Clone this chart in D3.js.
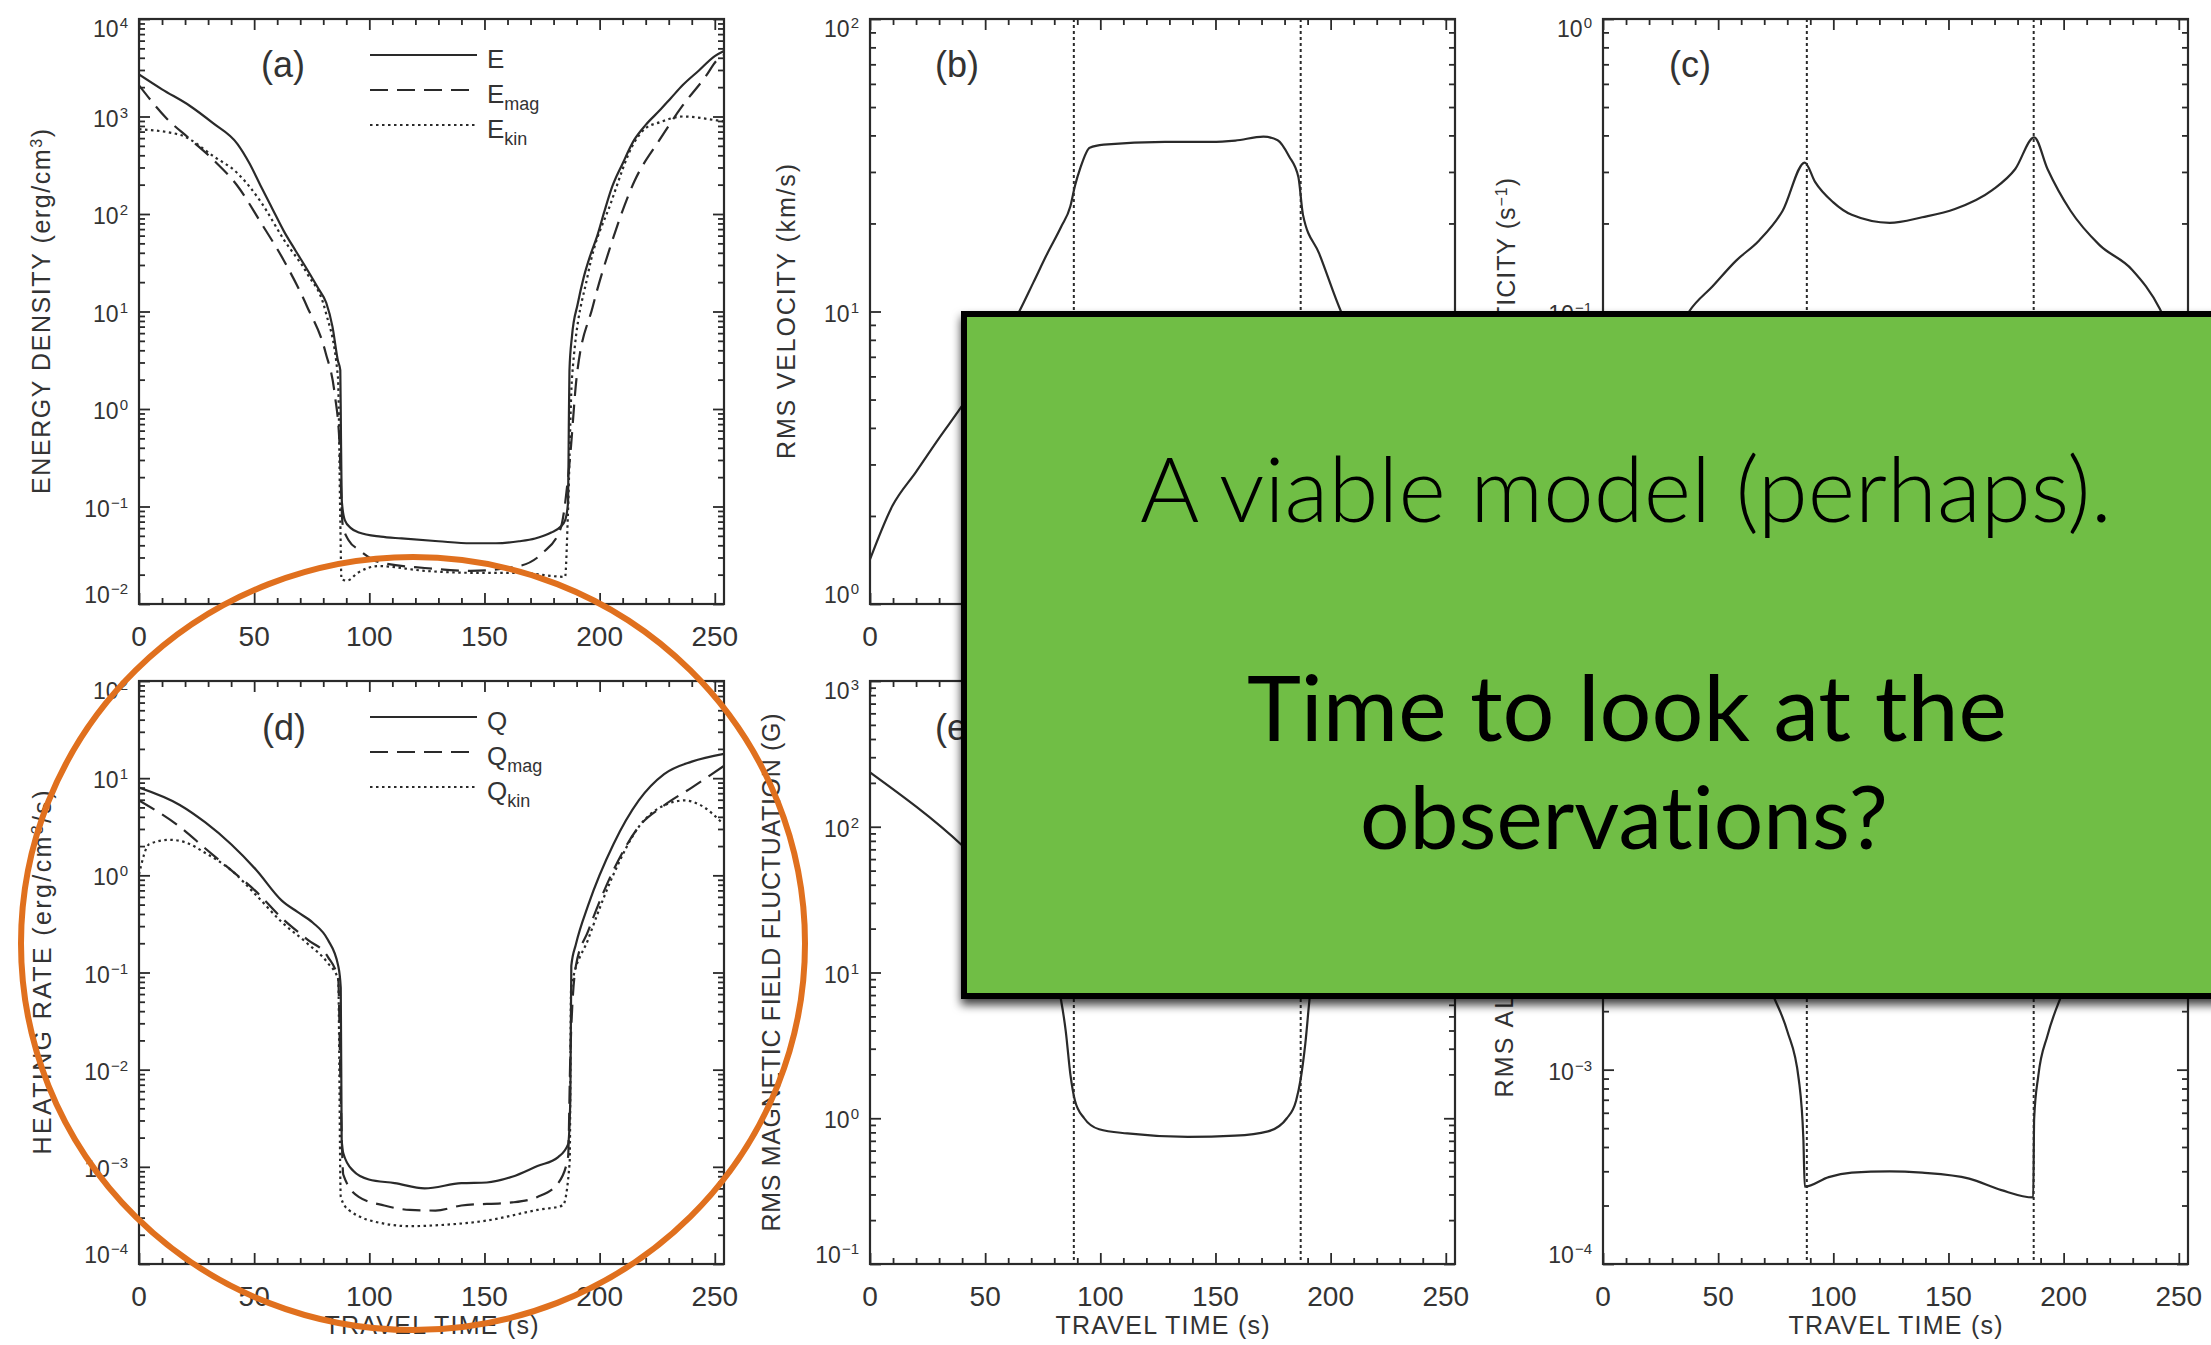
<!DOCTYPE html>
<html><head><meta charset="utf-8">
<script src="https://cdn.jsdelivr.net/npm/d3@7"></script>
<style>
html,body{margin:0;padding:0;background:#fff;}
svg{display:block;}
</style></head>
<body>
<svg id="chart" width="2211" height="1345"></svg>
<script>
// ---------------- DATA ----------------
const xTickValues = [0, 50, 100, 150, 200, 250];
const xMax = 254;
const transitionTimes = [88.5, 187];

// (a) energy density (erg/cm^3)
const energyTotal = [[0,2700],[10,1900],[22,1290],[32,860],[42.7,525],[48,330],[52.8,195],[58,112],[63,66],[68,42],[73,27],[78,17],[81.3,12.3],[84,7],[86.4,3.1],[87.4,2.5],[87.7,0.5],[88.1,0.11],[89.4,0.072],[92,0.06],[95.5,0.054],[105,0.049],[114,0.047],[130,0.044],[144,0.042],[155,0.042],[165,0.044],[172,0.047],[179,0.054],[183,0.062],[185,0.072],[186.3,0.11],[186.6,0.6],[186.9,2.5],[188,5.6],[190.5,12],[193,22],[196,38],[199,60],[202,105],[205,178],[210,330],[215,575],[220,820],[226,1150],[231,1550],[236,2090],[243,2950],[250,4170],[254,4700]];
const energyMag = [[0,2090],[12,955],[22,590],[32.5,355],[42.7,195],[53,81],[63,33],[73,11.2],[81,3.8],[85,1.41],[87,0.47],[88.4,0.066],[91,0.045],[95.5,0.036],[104,0.027],[124,0.0234],[144,0.0219],[165,0.0245],[175,0.033],[183,0.059],[187,0.29],[190,2.1],[197,11.2],[205,49],[215,214],[226,575],[236,1290],[246,2570],[251,3800],[254,4270]];
const energyKin = [[0,741],[18,646],[32.5,389],[42.7,263],[53,132],[63,54],[73,24.5],[81,10],[86.4,2.09],[87.4,0.072],[87.9,0.018],[90.4,0.0174],[95,0.0209],[104,0.0245],[124,0.0219],[144,0.0209],[165,0.0209],[185,0.019],[186.2,0.079],[188,2.09],[195,24.5],[205,132],[215,540],[220,759],[226,871],[236,1000],[251,912],[254,891]];

// (b) rms velocity (km/s)
const rmsVelocity = [[0,1.42],[9.8,2.17],[20,2.83],[30,3.69],[40.4,4.81],[50,6.3],[57,7.8],[64.8,10],[71,12.6],[77,15.8],[83,19.5],[87,22.9],[89,26.9],[91.3,30.9],[95.4,36.3],[101.5,37.2],[128,38.0],[148,38.0],[158.6,38.4],[170.8,39.6],[177,38.5],[182,33.9],[186,28.8],[188,21.4],[195,15.8],[204.5,10],[215,6.9],[230,4.2],[245,2.6],[254,2.0]];

// (c) rms vorticity (1/s)
const rmsVorticity = [[0,0.028],[15,0.045],[28,0.071],[37.4,0.1],[47.6,0.122],[57.7,0.149],[67.8,0.175],[78,0.221],[87.6,0.323],[92,0.278],[100,0.236],[108,0.214],[124.5,0.201],[138.6,0.21],[152.8,0.224],[169,0.26],[179,0.307],[187.2,0.394],[193,0.307],[203,0.221],[215.5,0.169],[229.7,0.139],[241.8,0.102],[248,0.079],[254,0.063]];

// (d) heating rate (erg/cm^3/s)
const heatingTotal = [[0,8.0],[17.7,5.3],[28.8,3.5],[40,2.09],[51,1.13],[62,0.55],[68.8,0.42],[75.4,0.327],[82,0.217],[86.5,0.117],[87.6,0.0697],[88.0,0.0019],[88.7,0.00138],[93,0.00091],[99.8,0.00074],[111,0.00068],[124,0.0006],[140,0.00068],[151,0.00069],[162,0.00079],[173,0.00102],[182,0.00126],[186.3,0.0017],[187.3,0.0052],[187.7,0.117],[189.7,0.195],[195,0.49],[206,2.09],[217,5.9],[228,11],[240,14.8],[254,17.8]];
const heatingMag = [[0,5.9],[17.7,3.16],[28.8,1.89],[40,1.13],[51,0.676],[62,0.363],[73,0.219],[82,0.145],[86.5,0.085],[87.6,0.0052],[88.7,0.00083],[95.4,0.00049],[106.5,0.0004],[117.6,0.00036],[128.7,0.000355],[140,0.0004],[162,0.00043],[173,0.00049],[182,0.00068],[186.3,0.00126],[187.3,0.0148],[189.7,0.117],[195,0.266],[206,1.13],[217,3.16],[228,5.25],[240,8.0],[254,13.4]];
const heatingKin = [[0,1.02],[4.4,2.09],[13.3,2.32],[20,2.19],[28.8,1.7],[40,1.13],[51,0.62],[62,0.33],[73,0.2],[82,0.125],[86.5,0.085],[87.6,0.00049],[91,0.00036],[106.5,0.00026],[117.6,0.000245],[128.7,0.00025],[151,0.00028],[173,0.00036],[184,0.0004],[187,0.00112],[187.6,0.069],[195,0.219],[206,1.02],[217,3.16],[228,5.25],[237,5.9],[244,5.25],[253,3.5]];

// (e) rms magnetic field fluctuation (G)
const rmsField = [[0,236],[40.4,73.5],[50,52.5],[60,35.5],[70,20.9],[78,11.2],[83,6.4],[85,3.95],[87,2.0],[89,1.32],[93,1.0],[99.5,0.84],[111.7,0.787],[138,0.745],[158.5,0.759],[172.8,0.813],[181,1.0],[185,1.32],[187,1.86],[189,3.24],[191,6.9],[196,15.8],[205,35.5],[220,79],[240,158],[254,251]];

// (f) rms alpha
const rmsAlpha = [[0,0.025],[30,0.0126],[55,0.0063],[73.9,0.0024],[80,0.00158],[85,0.00089],[87,0.00044],[87.6,0.00025],[98,0.00028],[108,0.000295],[124.5,0.0003],[138.6,0.000295],[159,0.000275],[173,0.00024],[186.8,0.00022],[187.2,0.00056],[189,0.00093],[193,0.0015],[199,0.0024],[210,0.0045],[230,0.01],[254,0.02]];

const slideLines = ["A viable model (perhaps).", "Time to look at the", "observations?"];

// ---------------- LAYOUT ----------------
const colLeft = [139, 870, 1603];
const panelW = 585;
const rowTop = [19, 681];
const panelH = [585, 583];
const FONT = "'Liberation Sans', Arial, Helvetica, sans-serif";
const INK = "#2a2a2a";
const TXT = "#333";
const dashes = {solid: null, dashed: "18,9", dotted: "2.5,3.5"};
const BOX = {x0: 961, y0: 311, x1: 2211, y1: 999};

const panels = [
  {id:"a", col:0, row:0, yDomain:[1e-2,1e4], label:"(a)", labelDx:144, vlines:false, titleX:50, titleLen:365,
   title:[["ENERGY DENSITY (erg/cm"],["3","sup"],[")"]],
   series:[{data:energyTotal, style:"solid"},{data:energyMag, style:"dashed"},{data:energyKin, style:"dotted"}],
   legend:[{name:"E", sub:"", style:"solid"},{name:"E", sub:"mag", style:"dashed"},{name:"E", sub:"kin", style:"dotted"}]},
  {id:"b", col:1, row:0, yDomain:[1,100], label:"(b)", labelDx:87, vlines:true, titleX:795, titleLen:295,
   title:[["RMS VELOCITY (km/s)"]], series:[{data:rmsVelocity, style:"solid"}]},
  {id:"c", col:2, row:0, yDomain:[1e-2,1], label:"(c)", labelDx:87, vlines:true, titleX:1515, titleLen:267,
   title:[["RMS VORTICITY (s"],["\u22121","sup"],[")"]], series:[{data:rmsVorticity, style:"solid"}]},
  {id:"d", col:0, row:1, yDomain:[1e-4,1e2], label:"(d)", labelDx:145, vlines:false, titleX:51, titleLen:364,
   title:[["HEATING RATE (erg/cm"],["3","sup"],["/s)"]],
   series:[{data:heatingTotal, style:"solid"},{data:heatingMag, style:"dashed"},{data:heatingKin, style:"dotted"}],
   legend:[{name:"Q", sub:"", style:"solid"},{name:"Q", sub:"mag", style:"dashed"},{name:"Q", sub:"kin", style:"dotted"}]},
  {id:"e", col:1, row:1, yDomain:[1e-1,1e3], label:"(e)", labelDx:87, vlines:true, titleX:780, titleLen:518,
   title:[["RMS MAGNETIC FIELD FLUCTUATION (G)"]], series:[{data:rmsField, style:"solid"}]},
  {id:"f", col:2, row:1, yDomain:[1e-4,1e-1], label:"(f)", labelDx:87, vlines:true, titleX:1513, titleLen:250,
   title:[["RMS ALPHA (km"],["\u22121","sup"],[")"]], series:[{data:rmsAlpha, style:"solid"}]}
];

const svg = d3.select("#chart");
svg.append("rect").attr("width",2211).attr("height",1345).attr("fill","#fff");
const defs = svg.append("defs");
const plotLayer = svg.append("g").attr("class","plots");

function drawPanel(p) {
  const left = colLeft[p.col], top = rowTop[p.row], w = panelW, h = panelH[p.row];
  const x = d3.scaleLinear().domain([0, xMax]).range([left, left + w]);
  const y = d3.scaleLog().domain(p.yDomain).range([top + h, top]);
  const g = plotLayer.append("g");

  defs.append("clipPath").attr("id", "clip-" + p.id)
    .append("rect").attr("x", left).attr("y", top).attr("width", w).attr("height", h);

  if (p.vlines) {
    g.selectAll("line.vl").data(transitionTimes).join("line").attr("class","vl")
      .attr("x1", d => x(d)).attr("x2", d => x(d)).attr("y1", top).attr("y2", top + h)
      .attr("stroke", INK).attr("stroke-width", 2).attr("stroke-dasharray", "3,3");
  }

  const line = d3.line().x(d => x(d[0])).y(d => y(d[1])).curve(d3.curveMonotoneX);
  p.series.forEach(s => {
    g.append("path").attr("d", line(s.data)).attr("fill","none")
      .attr("stroke", INK).attr("stroke-width", 2.2)
      .attr("stroke-dasharray", dashes[s.style])
      .attr("clip-path", `url(#clip-${p.id})`);
  });

  // ticks through d3 axes
  const xMinor = d3.range(10, xMax, 10).filter(v => v % 50 !== 0);
  const [lo, hi] = p.yDomain.map(v => Math.round(Math.log10(v)));
  const yMajor = d3.range(lo, hi + 1).map(e => Math.pow(10, e));
  const yMinor = [];
  for (let e = lo; e < hi; e++) for (let k = 2; k <= 9; k++) yMinor.push(k * Math.pow(10, e));

  const axes = [
    [d3.axisBottom(x).tickValues(xTickValues).tickSize(-11), `translate(0,${top+h})`],
    [d3.axisBottom(x).tickValues(xMinor).tickSize(-6), `translate(0,${top+h})`],
    [d3.axisTop(x).tickValues(xTickValues).tickSize(-11), `translate(0,${top})`],
    [d3.axisTop(x).tickValues(xMinor).tickSize(-6), `translate(0,${top})`],
    [d3.axisLeft(y).tickValues(yMajor).tickSize(-11), `translate(${left},0)`],
    [d3.axisLeft(y).tickValues(yMinor).tickSize(-6), `translate(${left},0)`],
    [d3.axisRight(y).tickValues(yMajor).tickSize(-11), `translate(${left+w},0)`],
    [d3.axisRight(y).tickValues(yMinor).tickSize(-6), `translate(${left+w},0)`]
  ];
  axes.forEach(([ax, tr]) => {
    const a = g.append("g").attr("transform", tr).attr("color", INK)
      .call(ax.tickFormat("").tickSizeOuter(0));
    a.select(".domain").remove();
    a.selectAll("text").remove();
    a.selectAll("line").attr("stroke-width", 1.8);
  });

  // frame
  g.append("rect").attr("x", left).attr("y", top).attr("width", w).attr("height", h)
    .attr("fill","none").attr("stroke", INK).attr("stroke-width", 2.2);

  // x tick labels
  g.selectAll("text.xt").data(xTickValues).join("text").attr("class","xt lbl")
    .attr("x", d => x(d)).attr("y", top + h + 42)
    .attr("text-anchor","middle").attr("font-family", FONT).attr("font-size", 28).attr("fill", TXT)
    .text(d => d);

  // y tick labels 10^n
  yMajor.forEach(v => {
    const e = Math.round(Math.log10(v));
    const base = Math.max(top + 18, Math.min(top + h - 1, y(v) + 10));
    const t = g.append("text").attr("class","lbl").attr("x", left - 11).attr("y", base)
      .attr("text-anchor","end").attr("font-family", FONT).attr("font-size", 23).attr("fill", TXT);
    t.append("tspan").text("10");
    t.append("tspan").attr("dy", -9).attr("dx", 1).attr("font-size", 15)
      .text(e < 0 ? "\u2212" + (-e) : String(e));
  });

  // y title
  const cy = top + h / 2;
  const tt = g.append("text").attr("class","lbl").attr("transform", `translate(${p.titleX},${cy}) rotate(-90)`)
    .attr("text-anchor","middle").attr("font-family", FONT).attr("font-size", 25).attr("fill", TXT)
    .attr("textLength", p.titleLen).attr("lengthAdjust","spacing");
  p.title.forEach(([s, kind]) => {
    const sp = tt.append("tspan").text(s);
    if (kind === "sup") sp.attr("font-size", 16).attr("baseline-shift", "super");
  });

  // x title (bottom row only)
  if (p.row === 1) {
    g.append("text").attr("class","lbl").attr("x", left + w / 2).attr("y", 1334)
      .attr("text-anchor","middle").attr("font-family", FONT).attr("font-size", 25).attr("fill", TXT)
      .attr("textLength", 214).attr("lengthAdjust","spacing")
      .text("TRAVEL TIME (s)");
  }

  // panel label
  g.append("text").attr("class","lbl").attr("x", left + p.labelDx).attr("y", top + 58 + (p.row ? 1 : 0))
    .attr("text-anchor","middle").attr("font-family", FONT).attr("font-size", 36).attr("fill", TXT)
    .text(p.label);

  // legend
  if (p.legend) {
    p.legend.forEach((L, i) => {
      const ly = top + 36 + i * 35;
      g.append("line").attr("x1", left + 231).attr("x2", left + 338).attr("y1", ly).attr("y2", ly)
        .attr("stroke", INK).attr("stroke-width", 2.2).attr("stroke-dasharray", dashes[L.style]);
      const t = g.append("text").attr("class","lbl").attr("x", left + 348).attr("y", ly + 13)
        .attr("font-family", FONT).attr("font-size", 26).attr("fill", TXT);
      t.append("tspan").text(L.name);
      if (L.sub) t.append("tspan").attr("dy", 7).attr("font-size", 18).text(L.sub);
    });
  }
}

panels.forEach(drawPanel);

// drop plot texts that lie completely under the opaque slide box (not visible in the slide)
plotLayer.selectAll("text.lbl").each(function () {
  const r = this.getBoundingClientRect();
  if (r.left >= BOX.x0 && r.right <= BOX.x1 && r.top >= BOX.y0 && r.bottom <= BOX.y1) this.remove();
});

// orange highlight ellipse
svg.append("ellipse").attr("cx", 413).attr("cy", 943.5).attr("rx", 392).attr("ry", 386.5)
  .attr("fill","none").attr("stroke","#E0701E").attr("stroke-width", 6);

// green slide box with drop shadow
const f = defs.append("filter").attr("id","shadow").attr("x","-10%").attr("y","-10%").attr("width","130%").attr("height","130%");
f.append("feDropShadow").attr("dx",0).attr("dy",6).attr("stdDeviation",5)
  .attr("flood-color","#000").attr("flood-opacity",0.75);
svg.append("rect").attr("x", BOX.x0 + 3).attr("y", BOX.y0 + 3).attr("width", 1320).attr("height", BOX.y1 - BOX.y0 - 6)
  .attr("fill","#70BE44").attr("stroke","#000").attr("stroke-width", 6).attr("filter","url(#shadow)");

const boxFont = "Lato, 'Open Sans', 'Noto Sans', sans-serif";
function boxText(str, xc, yb, weight) {
  return svg.append("text").attr("x", xc).attr("y", yb).attr("text-anchor","middle")
    .attr("font-family", boxFont).attr("font-weight", weight).attr("font-size", 90).attr("fill","#000")
    .style("font-variant-ligatures", "none").style("font-feature-settings", "'liga' 0")
    .text(str);
}
const l1 = boxText(slideLines[0], 1626, 522, 300);
const l2 = boxText(slideLines[1], 1627, 741, 400);
const l3 = boxText(slideLines[2], 1624, 849, 400);
function fit(sel, target) {
  const len = sel.node().getComputedTextLength();
  const fs = parseFloat(sel.attr("font-size")) * target / len;
  sel.attr("font-size", fs);
  return fs;
}
fit(l1, 972);
fit(l2, 760);
fit(l3, 528);
</script>
</body></html>
